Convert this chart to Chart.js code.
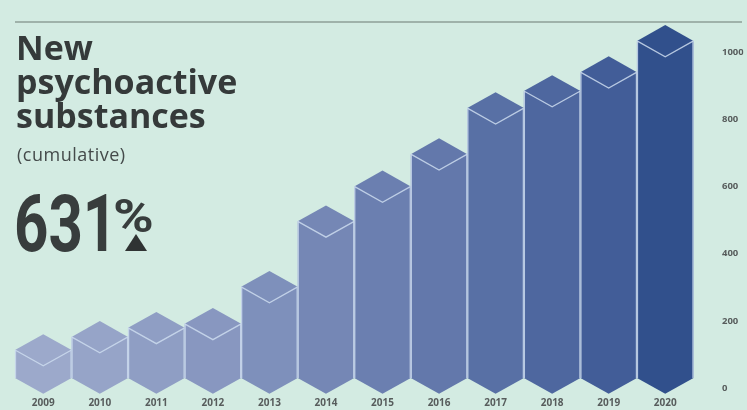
<!DOCTYPE html>
<html>
<head>
<meta charset="utf-8">
<script src="https://cdn.jsdelivr.net/npm/chart.js@4"></script>
<style>
  html, body { margin: 0; padding: 0; }
  body { width: 747px; height: 410px; background: #d3ebe2; position: relative; overflow: hidden; font-family: "Open Sans", Roboto, sans-serif; color: #363b3b; }
  #wrap { position: absolute; left: 0; top: 0; width: 747px; height: 410px; }
  .rule { position: absolute; left: 15px; top: 21px; width: 727px; height: 2px; background: #9fb2aa; }
  .title { position: absolute; left: 16px; top: 30px; font-size: 34px; font-weight: 700; line-height: 34px; color: #353a3a; }
  .sub { position: absolute; left: 17px; top: 144px; font-size: 18px; line-height: 20px; letter-spacing: 0.5px; color: #444a4a; }
  .big { position: absolute; left: 14px; top: 184px; font-family: Roboto, sans-serif; font-size: 80px; font-weight: 700; line-height: 80px; transform: scaleX(0.75); transform-origin: left top; color: #383d3d; }
  .pct { position: absolute; left: 113px; top: 193px; font-family: Roboto, sans-serif; font-size: 46px; font-weight: 700; line-height: 46px; transform: scaleX(1.2); transform-origin: left top; color: #383d3d; }
  .tri { position: absolute; left: 125px; top: 234px; width: 0; height: 0; border-left: 11px solid transparent; border-right: 11px solid transparent; border-bottom: 17px solid #2f3333; }
</style>
</head>
<body>
<div id="wrap"><canvas id="chart" width="747" height="410"></canvas></div>
<div class="rule"></div>
<div class="title">New<br>psychoactive<br>substances</div>
<div class="sub">(cumulative)</div>
<div class="big">631</div>
<div class="pct">%</div>
<div class="tri"></div>
<script>
const years = ["2009", "2010", "2011", "2012", "2013", "2014", "2015", "2016", "2017", "2018", "2019", "2020"];
const substances = [113, 152, 179, 191, 301, 496, 600, 696, 833, 884, 940, 1033];
const yTicks = [0, 200, 400, 600, 800, 1000];

// one shade per column, light to dark
const barColors = ["#9ca9cb", "#96a4c8", "#8f9ec4", "#8897c0", "#7e90bb", "#7587b5", "#6b7fb0", "#6378ab", "#5870a5", "#4e679f", "#425d98", "#31508c"];

// draws each bar as an isometric column
const prisms = {
  id: "prisms",
  afterDatasetsDraw(chart) {
    const ctx = chart.ctx;
    const meta = chart.getDatasetMeta(0);
    const base = chart.scales.y.getPixelForValue(0);
    meta.data.forEach((bar, i) => {
      const w = bar.width / 2;
      const d = w * 0.56;
      const x = bar.x, top = bar.y, bot = base - 10;
      ctx.save();
      ctx.beginPath();
      ctx.moveTo(x - w, top);
      ctx.lineTo(x, top - d);
      ctx.lineTo(x + w, top);
      ctx.lineTo(x + w, bot);
      ctx.lineTo(x, bot + d);
      ctx.lineTo(x - w, bot);
      ctx.closePath();
      ctx.fillStyle = barColors[i];
      ctx.fill();
      ctx.strokeStyle = "rgba(205,220,238,0.85)";
      ctx.lineWidth = 1.3;
      ctx.beginPath();
      ctx.moveTo(x - w, top);
      ctx.lineTo(x, top + d);
      ctx.lineTo(x + w, top);
      ctx.stroke();
      ctx.beginPath();
      ctx.moveTo(x - w + 0.5, top);
      ctx.lineTo(x - w + 0.5, bot);
      ctx.moveTo(x + w - 0.5, top);
      ctx.lineTo(x + w - 0.5, bot);
      ctx.stroke();
      ctx.restore();
    });
  }
};

new Chart(document.getElementById("chart"), {
  type: "bar",
  data: {
    labels: years,
    datasets: [{
      label: "New psychoactive substances",
      data: substances,
      backgroundColor: "rgba(0,0,0,0)",
      borderWidth: 0,
      barPercentage: 1,
      categoryPercentage: 1,
      clip: false
    }]
  },
  options: {
    responsive: false,
    animation: false,
    layout: { padding: { left: 15, right: 3.5, top: 52, bottom: 2 } },
    plugins: { legend: { display: false }, tooltip: { enabled: false } },
    scales: {
      x: {
        grid: { display: false, drawTicks: false },
        border: { display: false },
        afterFit: (scale) => { scale.height = 20; },
        ticks: { color: "#575c5c", font: { family: "'Open Sans'", size: 10, weight: "bold" }, padding: 9 }
      },
      y: {
        position: "right",
        min: 0,
        max: 1000,
        grid: { display: false, drawTicks: false },
        border: { display: false },
        // keep the label gap from also padding the plot top and bottom
        afterFit: (scale) => { scale.width = 50; scale.paddingTop = 6; scale.paddingBottom = 6; },
        afterBuildTicks: (axis) => { axis.ticks = yTicks.map((v) => ({ value: v })); },
        ticks: {
          color: "#575c5c",
          font: { family: "'Open Sans'", size: 9.5, weight: "bold" },
          padding: 28.5,
          callback: (v) => String(v)
        }
      }
    }
  },
  plugins: [prisms]
});
</script>
</body>
</html>
